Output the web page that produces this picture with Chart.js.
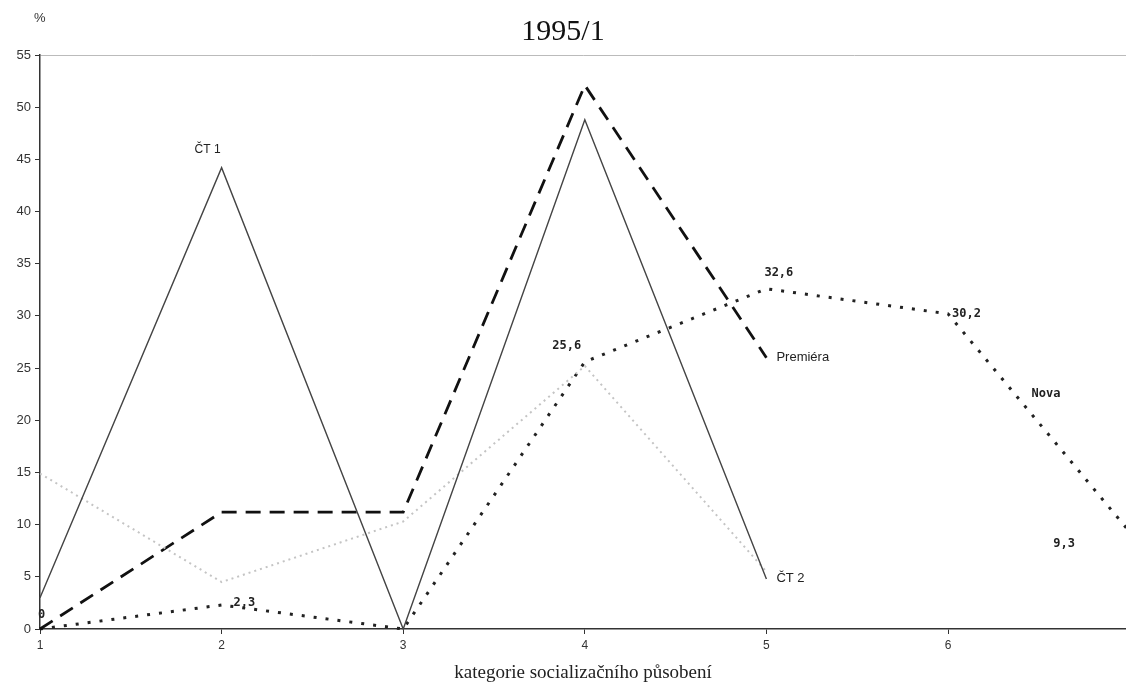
<!DOCTYPE html>
<html>
<head>
<meta charset="utf-8">
<script src="https://cdn.jsdelivr.net/npm/chart.js@4/dist/chart.umd.min.js"></script>
<style>
  html, body { margin: 0; padding: 0; background: #fff; }
  #wrap { width: 1126px; height: 684px; position: relative; }
</style>
</head>
<body>
<div id="wrap"><canvas id="c"></canvas></div>
<script>
// categories 1..7 (7 sits on the right edge, unlabeled)
var categories = [1, 2, 3, 4, 5, 6, 7];
var xTicks = [1, 2, 3, 4, 5, 6];
var ct1 = [3, 44.2, 0, 48.8, 4.8, null, null];
var ct2 = [14.9, 4.5, 10.3, 25.2, 5.5, null, null];
var premiera = [0, 11.2, 11.2, 52.1, 26, null, null];
var nova = [0, 2.3, 0, 25.6, 32.6, 30.2, 9.3];
var yTicks = [0, 5, 10, 15, 20, 25, 30, 35, 40, 45, 50, 55];

function pts(arr) {
    return categories.map(function (c, i) { return { x: c, y: arr[i] }; })
        .filter(function (p) { return p.y !== null; });
}

// text next to the lines, positioned from the data through the scales
var notes = [
    { text: 'ČT 1', x: 2, y: 44.2, dx: -14, dy: -18, font: '12px "Liberation Sans"' },
    { text: 'ČT 2', x: 5, y: 4.8, dx: 10, dy: 0, font: '13px "Liberation Sans"', align: 'left' },
    { text: 'Premiéra', x: 5, y: 26, dx: 10, dy: 0, font: '13px "Liberation Sans"', align: 'left' },
    { text: 'Nova', x: 6.46, y: 22.5, dx: 0, dy: 0, font: 'bold 12px "DejaVu Sans Mono"', align: 'left' },
    { text: '0', x: 1, y: 0, dx: -2, dy: -14, font: 'bold 12px "DejaVu Sans Mono"', align: 'left' },
    { text: '2,3', x: 2, y: 2.3, dx: 12, dy: -2, font: 'bold 12px "DejaVu Sans Mono"', align: 'left' },
    { text: '25,6', x: 4, y: 25.6, dx: -18, dy: -16, font: 'bold 12px "DejaVu Sans Mono"' },
    { text: '32,6', x: 5, y: 32.6, dx: -2, dy: -16, font: 'bold 12px "DejaVu Sans Mono"', align: 'left' },
    { text: '30,2', x: 6, y: 30.2, dx: 4, dy: 0, font: 'bold 12px "DejaVu Sans Mono"', align: 'left' },
    { text: '9,3', x: 6.58, y: 8.2, dx: 0, dy: 0, font: 'bold 12px "DejaVu Sans Mono"', align: 'left' }
];

var notesPlugin = {
    id: 'notes',
    afterDatasetsDraw: function (chart) {
        var c = chart.ctx, xs = chart.scales.x, ys = chart.scales.y;
        c.save();
        c.fillStyle = '#222';
        c.textBaseline = 'middle';
        notes.forEach(function (n) {
            c.font = n.font;
            c.textAlign = n.align || 'center';
            c.fillText(n.text, xs.getPixelForValue(n.x) + n.dx, ys.getPixelForValue(n.y) + n.dy);
        });
        c.font = '13px "Liberation Sans"';
        c.textAlign = 'left';
        c.fillStyle = '#333';
        c.fillText('%', 34, 18);
        c.restore();
    }
};

var ctx = document.getElementById('c').getContext('2d');
var chart = new Chart(ctx, {
    type: 'line',
    data: {
        datasets: [
            { label: 'ČT 1', data: pts(ct1), borderColor: '#444', borderWidth: 1.4, pointRadius: 0, tension: 0 },
            { label: 'ČT 2', data: pts(ct2), borderColor: '#c4c4c4', borderWidth: 2, borderDash: [2, 4], pointRadius: 0, tension: 0 },
            { label: 'Premiéra', data: pts(premiera), borderColor: '#111', borderWidth: 2.8, borderDash: [15, 9], pointRadius: 0, tension: 0 },
            { label: 'Nova', data: pts(nova), borderColor: '#222', borderWidth: 3, borderDash: [3, 9], pointRadius: 0, tension: 0 }
        ]
    },
    options: {
        responsive: true,
        maintainAspectRatio: false,
        animation: false,
        clip: false,
        layout: { padding: { left: 0, right: 0, top: 0, bottom: 0 } },
        plugins: {
            legend: { display: false },
            tooltip: { enabled: false },
            title: {
                display: true,
                text: '1995/1',
                color: '#111',
                font: { family: '"Liberation Serif"', size: 30, weight: 'normal', lineHeight: 1.2 },
                padding: { top: 14, bottom: 5 }
            }
        },
        scales: {
            x: {
                type: 'linear',
                min: 1,
                max: 6.98,
                afterBuildTicks: function (s) { s.ticks = xTicks.map(function (v) { return { value: v }; }); },
                border: { color: '#333', width: 1.5 },
                grid: { drawOnChartArea: false, tickLength: 5, color: '#333' },
                ticks: {
                    color: '#333',
                    font: { family: '"Liberation Sans"', size: 12 },
                    padding: 4
                },
                title: {
                    display: true,
                    text: 'kategorie socializačního působení',
                    color: '#222',
                    font: { family: '"Liberation Serif"', size: 19 },
                    padding: { top: 2, bottom: 0 }
                },
                afterFit: function (s) { s.height = 55; }
            },
            y: {
                min: 0,
                max: 55,
                border: { color: '#333', width: 1.5 },
                afterBuildTicks: function (s) { s.ticks = yTicks.map(function (v) { return { value: v }; }); },
                grid: {
                    drawOnChartArea: true,
                    tickLength: 5,
                    color: function (c) { return c.tick && c.tick.value === 55 ? '#bbb' : 'rgba(0,0,0,0)'; },
                    tickColor: '#333'
                },
                ticks: {
                    color: '#333',
                    font: { family: '"Liberation Sans"', size: 13 },
                    padding: 4
                },
                afterFit: function (s) { s.width = 40; }
            }
        }
    },
    plugins: [notesPlugin]
});
</script>
</body>
</html>
